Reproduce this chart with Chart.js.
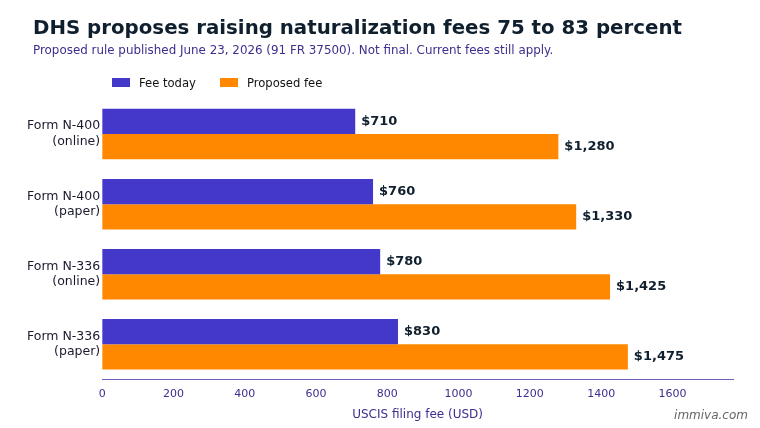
<!DOCTYPE html>
<html><head><meta charset="utf-8">
<script src="https://cdn.jsdelivr.net/npm/chart.js@4"></script>
<style>
body{margin:0;width:760px;height:428px;background:#fff;font-family:"DejaVu Sans",sans-serif;position:relative;overflow:hidden}
#t{position:absolute;left:33px;top:16px;font-size:19.8px;font-weight:bold;color:#0f1f2e}
#s{position:absolute;left:33px;top:43px;font-size:11.9px;color:#3b2f8f}
#w{position:absolute;right:12px;top:408px;font-size:12px;font-style:italic;color:#666}
#lg{position:absolute;left:112px;top:76px;font-size:11.6px;color:#111}
#lg span.b{display:inline-block;width:18px;height:9px;vertical-align:middle;margin-right:9px;position:relative;top:-1px}
#c{position:absolute;left:0;top:0}
</style></head><body>
<canvas id="c" width="760" height="428"></canvas>
<div id="t">DHS proposes raising naturalization fees 75 to 83 percent</div>
<div id="s">Proposed rule published June 23, 2026 (91 FR 37500). Not final. Current fees still apply.</div>
<div id="lg"><span class="b" style="background:#4338ca"></span>Fee today<span style="display:inline-block;width:24px"></span><span class="b" style="background:#ff8800"></span>Proposed fee</div>
<div id="w">immiva.com</div>
<script>
const categories=[["Form N-400","(online)"],["Form N-400","(paper)"],["Form N-336","(online)"],["Form N-336","(paper)"]];
const feeToday=[710,760,780,830];
const proposedFee=[1280,1330,1425,1475];
const xTicks=[0,200,400,600,800,1000,1200,1400,1600];
const labelPlugin={id:'lbl',afterDatasetsDraw(ch){const ctx=ch.ctx;ctx.save();ctx.font='bold 13px "DejaVu Sans"';ctx.fillStyle='#0f1f2e';ctx.textBaseline='middle';
ch.data.datasets.forEach((d,i)=>{ch.getDatasetMeta(i).data.forEach((b,j)=>{ctx.fillText('$'+d.data[j].toLocaleString('en-US'),b.x+6,b.y);});});ctx.restore();}};
new Chart(document.getElementById('c'),{type:'bar',
data:{labels:categories,datasets:[
{label:'Fee today',data:feeToday,backgroundColor:'#4338ca',categoryPercentage:0.72,barPercentage:1},
{label:'Proposed fee',data:proposedFee,backgroundColor:'#ff8800',categoryPercentage:0.72,barPercentage:1}]},
options:{indexAxis:'y',responsive:false,animation:false,
layout:{padding:{top:99,left:25,right:27,bottom:2}},
plugins:{legend:{display:false},tooltip:{enabled:false}},
scales:{x:{min:0,max:1770,afterBuildTicks:a=>{a.ticks=xTicks.map(v=>({value:v}));},grid:{display:false,drawTicks:true,tickColor:'#3b2f8f',tickLength:5},border:{color:'#6b5fc0'},
ticks:{color:'#3b2f8f',font:{size:11,family:'DejaVu Sans'},callback:v=>String(v)},title:{display:true,text:'USCIS filing fee (USD)',color:'#3b2f8f',font:{size:12,family:'DejaVu Sans'}}},
y:{grid:{display:false,drawTicks:false},border:{display:false},ticks:{color:'#1a1a2e',font:{size:12.5,family:'DejaVu Sans',lineHeight:1.25},padding:2}}}},
plugins:[labelPlugin]});
</script></body></html>
